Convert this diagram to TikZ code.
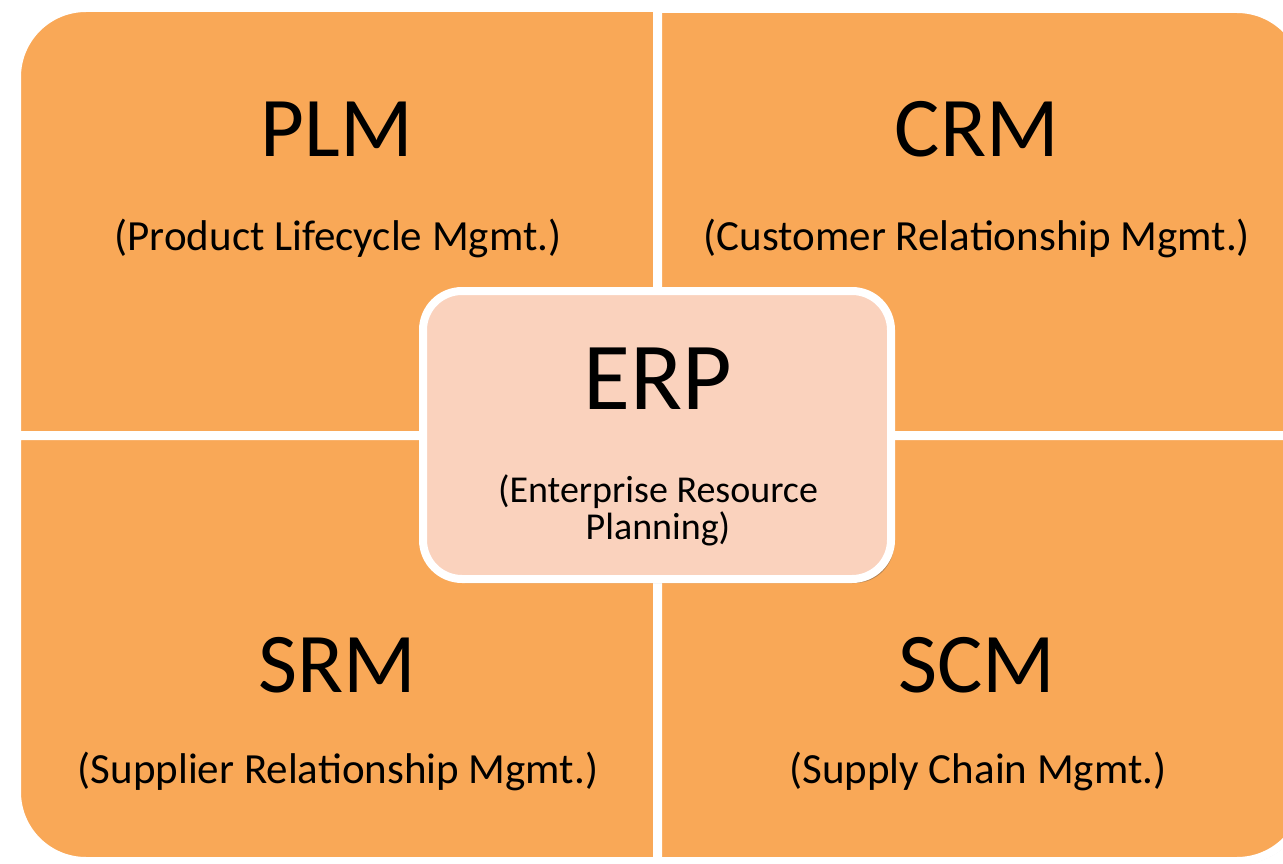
\documentclass[tikz,border=0pt]{standalone}
\usepackage{fontspec}
\setmainfont{Carlito}
\usetikzlibrary{shadows}
\definecolor{quadorange}{HTML}{F9A857}
\definecolor{erppeach}{HTML}{FAD2BD}
\tikzset{
  quad/.style={fill=quadorange, draw=white, line width=8pt, line join=round,
    drop shadow={shadow xshift=2pt, shadow yshift=-3pt, opacity=.30, fill=black!70}},
  erpbox/.style={fill=erppeach, draw=white, line width=8pt,
    drop shadow={shadow xshift=3pt, shadow yshift=-4pt, opacity=.40, fill=black!70}},
  bigtitle/.style={anchor=base, inner sep=0pt, font=\fontsize{85}{100}\selectfont},
  subtitle/.style={anchor=base, inner sep=0pt, font=\fontsize{43}{50}\selectfont},
  erptitle/.style={anchor=base, inner sep=0pt, font=\fontsize{96}{112}\selectfont},
  erpsub/.style={anchor=base, inner sep=0pt, font=\fontsize{38}{44}\selectfont}
}
\begin{document}
\begin{tikzpicture}[x=1pt,y=1pt]
\useasboundingbox (0,0) rectangle (1283,-864);
% quadrants
\path[quad] (17,-435) -- (17,-77) arc[start angle=180,end angle=90,radius=69pt] -- (657,-8) -- (657,-435) -- cycle;
\path[quad] (658,-435) -- (658,-9) -- (1237,-9) arc[start angle=90,end angle=0,radius=69pt] -- (1306,-435) -- cycle;
\path[quad] (17,-436) -- (657,-436) -- (657,-861) -- (86,-861) arc[start angle=270,end angle=180,radius=69pt] -- cycle;
\path[quad] (658,-436) -- (1306,-436) -- (1306,-792) arc[start angle=0,end angle=-90,radius=69pt] -- (658,-861) -- cycle;
% ERP box
\path[erpbox, rounded corners=39pt] (423,-291) rectangle (891,-579);
% texts
\node[bigtitle] (plm) at (337,-157) {PLM};
\node[subtitle] (plmsub) at (338,-250) {(Product Lifecycle Mgmt.)};
\node[bigtitle] (crm) at (977,-157) {CRM};
\node[subtitle] (crmsub) at (977,-250) {(Customer Relationship Mgmt.)};
\node[bigtitle] (srm) at (337,-692) {SRM};
\node[subtitle] (srmsub) at (338,-783) {(Supplier Relationship Mgmt.)};
\node[bigtitle] (scm) at (977,-692) {SCM};
\node[subtitle] (scmsub) at (978,-783) {(Supply Chain Mgmt.)};
\node[erptitle] (erp) at (658,-409) {ERP};
\node[erpsub] (erpsubA) at (658,-502) {(Enterprise Resource};
\node[erpsub] (erpsubB) at (658,-539) {Planning)};
\end{tikzpicture}
\end{document}
